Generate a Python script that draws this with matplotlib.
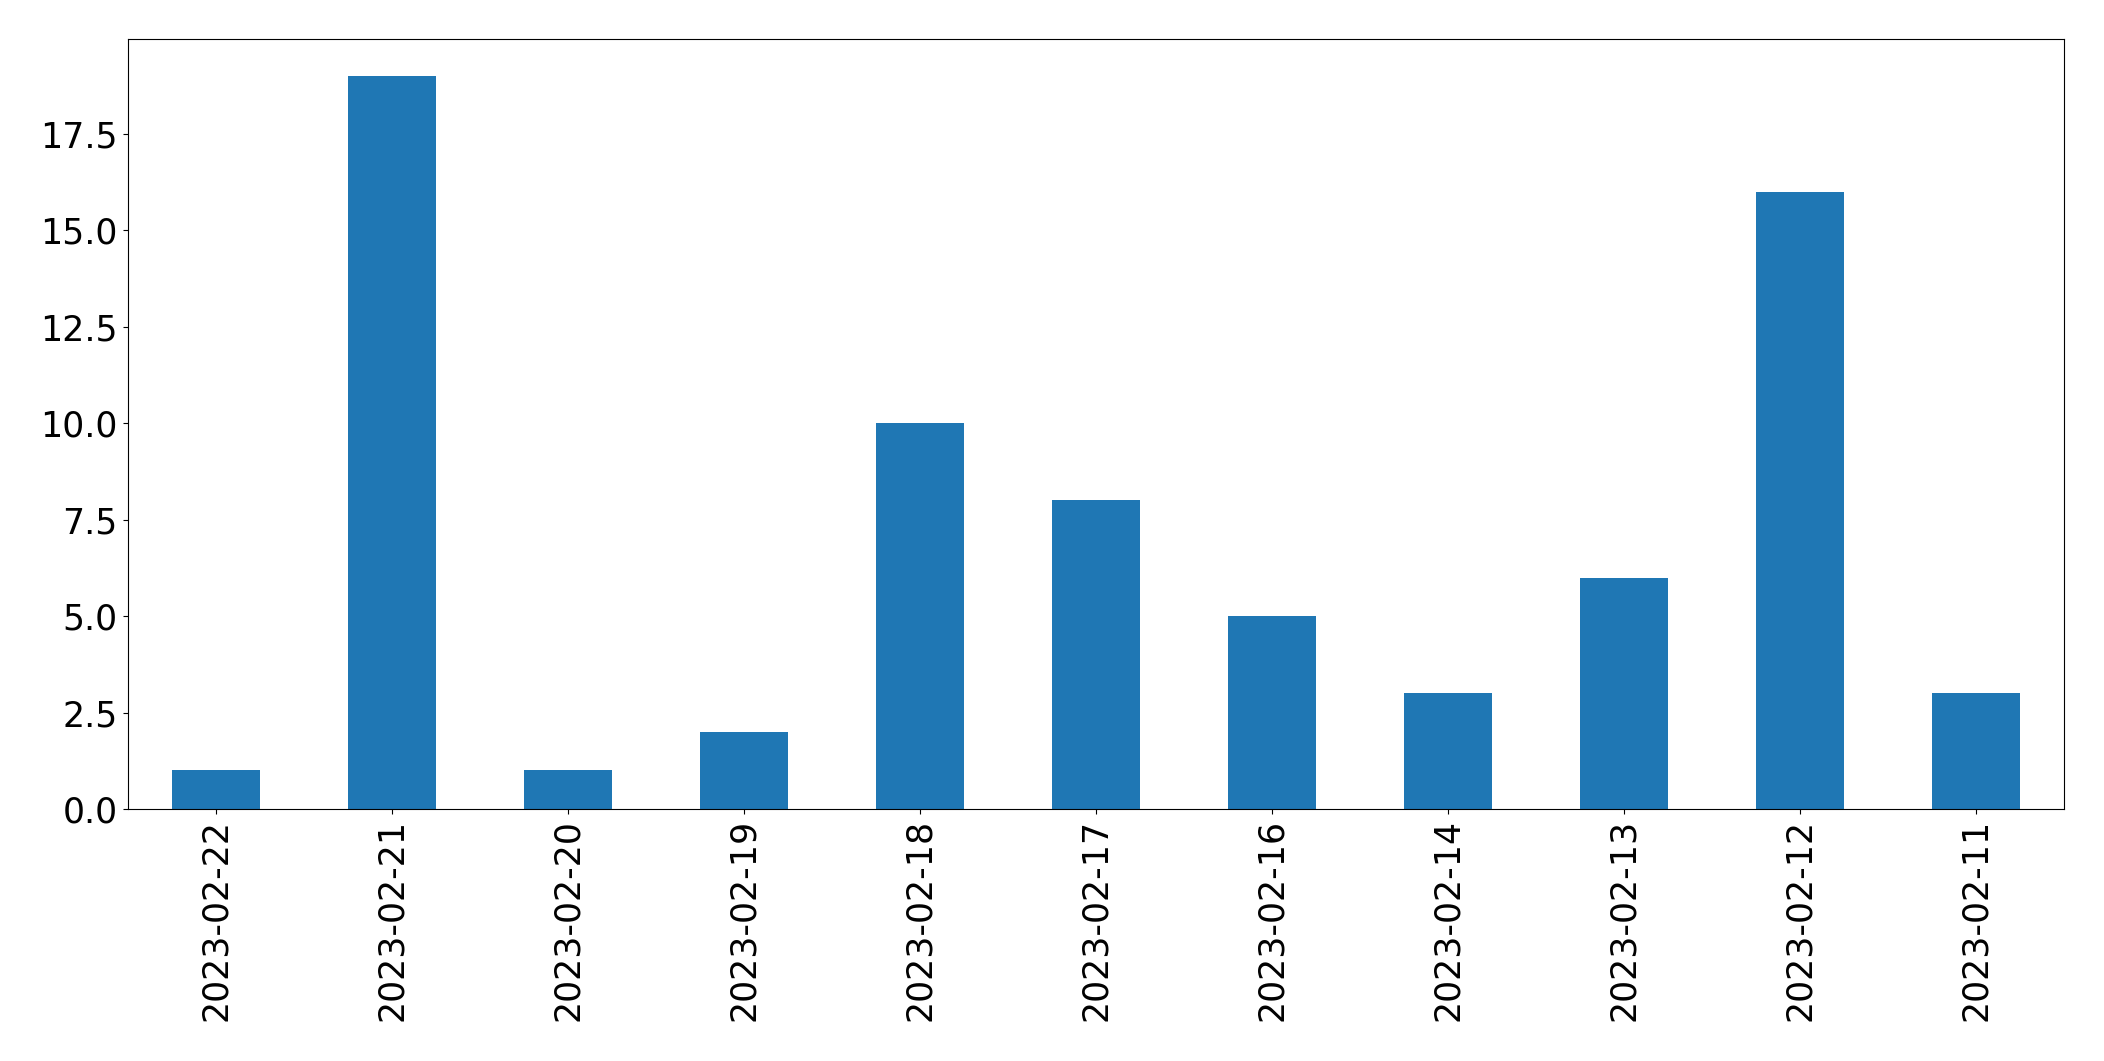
import matplotlib
matplotlib.use("Agg")
import matplotlib.pyplot as plt
import pandas as pd

# dates and counts
dates = ["2023-02-22", "2023-02-21", "2023-02-20", "2023-02-19", "2023-02-18",
         "2023-02-17", "2023-02-16", "2023-02-14", "2023-02-13", "2023-02-12",
         "2023-02-11"]
counts = [1, 19, 1, 2, 10, 8, 5, 3, 6, 16, 3]

s = pd.Series(counts, index=dates)

fig = plt.figure(figsize=(21.04, 10.61), dpi=100)
ax = fig.add_axes([0.0606, 0.2375, 0.9204, 0.7255])
s.plot(kind="bar", ax=ax, color="#1f77b4", fontsize=25)
ax.tick_params(axis="x", labelrotation=90)

fig.savefig("out.png", dpi=100)
